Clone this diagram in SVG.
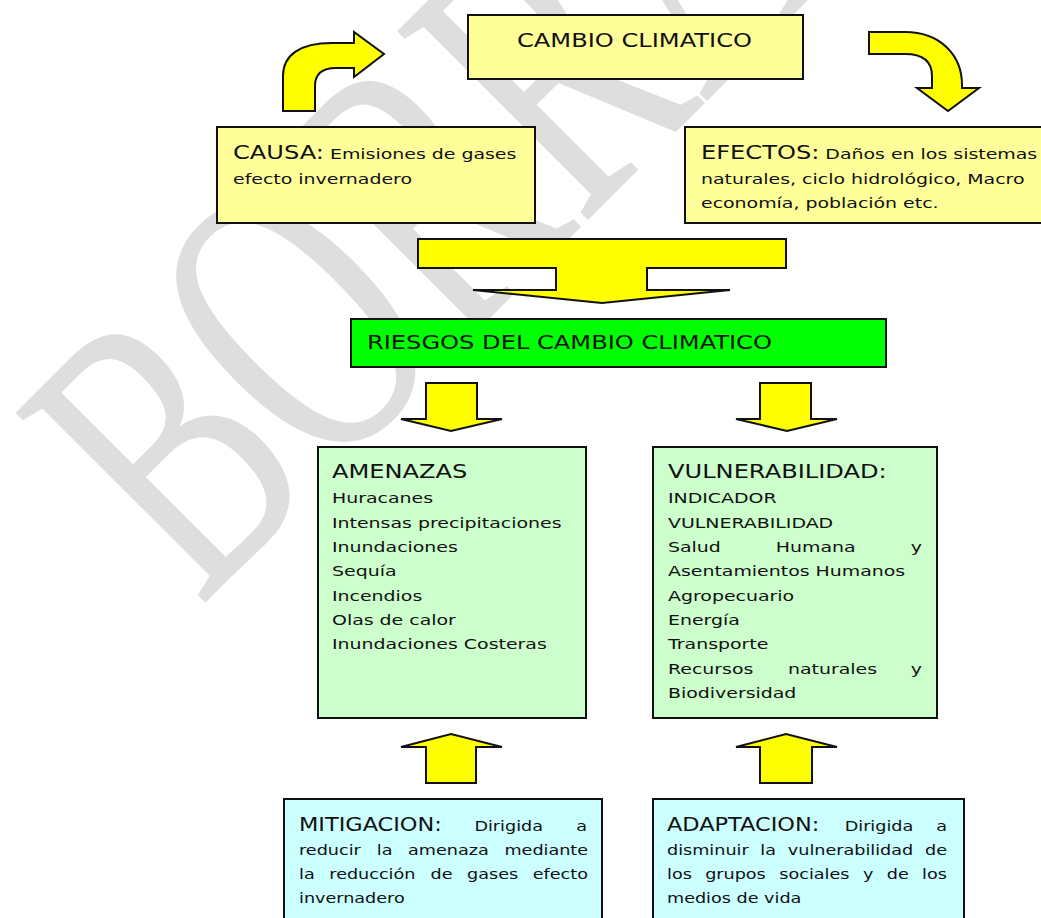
<svg xmlns="http://www.w3.org/2000/svg" width="1041" height="918" viewBox="0 0 1041 918">
<style>
.wm{font-family:"Liberation Serif","Times New Roman",serif;font-size:410px;fill:#dedede}
.box{stroke:#111;stroke-width:2}
.yel{fill:#ffff99}
.grn{fill:#00ff00}
.lgr{fill:#ccffcc}
.cyn{fill:#ccffff}
.arr{fill:#ffff00;stroke:#111;stroke-width:2;stroke-linejoin:miter}
.t{font-family:"DejaVu Sans",Verdana,sans-serif;fill:#111;font-size:14.67px}
.h{font-size:18.7px}
</style>
<rect width="1041" height="918" fill="#fff"/>
<text class="wm" transform="translate(200,608) rotate(-45) scale(0.64,1)">BORRADOR</text>

<g id="cambio">
<rect class="box yel" x="468" y="15" width="335" height="64"/>
<text class="t h" transform="translate(517,47) scale(1.29,1)">CAMBIO CLIMATICO</text>
</g>

<g id="causa">
<rect class="box yel" x="217" y="127" width="318" height="96"/>
<text class="t" transform="translate(233,0) scale(1.29,1)"><tspan x="0" y="159"><tspan class="h">CAUSA:</tspan> Emisiones de gases</tspan><tspan x="0" y="184">efecto invernadero</tspan></text>
</g>

<g id="efectos">
<rect class="box yel" x="685" y="127" width="370" height="96"/>
<text class="t" transform="translate(701,0) scale(1.29,1)"><tspan x="0" y="159"><tspan class="h">EFECTOS:</tspan> Daños en los sistemas</tspan><tspan x="0" y="184">naturales, ciclo hidrológico, Macro</tspan><tspan x="0" y="208">economía, población etc.</tspan></text>
</g>

<g id="riesgos">
<rect class="box grn" x="351" y="319" width="535" height="48"/>
<text class="t h" transform="translate(367,349) scale(1.29,1)">RIESGOS DEL CAMBIO CLIMATICO</text>
</g>

<g id="amenazas">
<rect class="box lgr" x="318" y="447" width="268" height="271"/>
<text class="t" transform="translate(332,0) scale(1.29,1)"><tspan class="h" x="0" y="478.5">AMENAZAS</tspan><tspan x="0" y="503.5">Huracanes</tspan><tspan x="0" y="527.8">Intensas precipitaciones</tspan><tspan x="0" y="552.1">Inundaciones</tspan><tspan x="0" y="576.4">Sequía</tspan><tspan x="0" y="600.7">Incendios</tspan><tspan x="0" y="625">Olas de calor</tspan><tspan x="0" y="649.3">Inundaciones Costeras</tspan></text>
</g>

<g id="vulnerabilidad">
<rect class="box lgr" x="653" y="447" width="284" height="271"/>
<text class="t" transform="translate(668,0) scale(1.29,1)"><tspan class="h" x="0" y="478.5">VULNERABILIDAD:</tspan><tspan x="0" y="503.5">INDICADOR</tspan><tspan x="0" y="527.8">VULNERABILIDAD</tspan><tspan x="0" y="552.1">Salud</tspan><tspan x="83.6" y="552.1">Humana</tspan><tspan x="188.2" y="552.1">y</tspan><tspan x="0" y="576.4">Asentamientos Humanos</tspan><tspan x="0" y="600.7">Agropecuario</tspan><tspan x="0" y="625">Energía</tspan><tspan x="0" y="649.3">Transporte</tspan><tspan x="0" y="673.6">Recursos</tspan><tspan x="93" y="673.6">naturales</tspan><tspan x="188.2" y="673.6">y</tspan><tspan x="0" y="697.9">Biodiversidad</tspan></text>
</g>

<g id="mitigacion">
<rect class="box cyn" x="284" y="799" width="318" height="140"/>
<text class="t" transform="translate(299,0) scale(1.2,1)"><tspan class="h" x="0" y="831">MITIGACION:</tspan><tspan x="146.2" y="831">Dirigida</tspan><tspan x="231" y="831">a</tspan><tspan x="0" y="855">reducir</tspan><tspan x="64.8" y="855">la</tspan><tspan x="90.9" y="855">amenaza</tspan><tspan x="171.2" y="855">mediante</tspan><tspan x="0" y="879">la</tspan><tspan x="25.25" y="879">reducción</tspan><tspan x="109.6" y="879">de</tspan><tspan x="140.1" y="879">gases</tspan><tspan x="194.8" y="879">efecto</tspan><tspan x="0" y="903">invernadero</tspan></text>
</g>

<g id="adaptacion">
<rect class="box cyn" x="653" y="799" width="311" height="140"/>
<text class="t" transform="translate(667,0) scale(1.2,1)"><tspan class="h" x="0" y="831">ADAPTACION:</tspan><tspan x="148.1" y="831">Dirigida</tspan><tspan x="224.3" y="831">a</tspan><tspan x="0" y="855">disminuir</tspan><tspan x="77.8" y="855">la</tspan><tspan x="100.7" y="855">vulnerabilidad</tspan><tspan x="215" y="855">de</tspan><tspan x="0" y="879">los</tspan><tspan x="31.8" y="879">grupos</tspan><tspan x="93.6" y="879">sociales</tspan><tspan x="163.3" y="879">y</tspan><tspan x="183.1" y="879">de</tspan><tspan x="212.6" y="879">los</tspan><tspan x="0" y="903">medios de vida</tspan></text>
</g>

<g id="connectors">
<path class="arr" d="M283,111 L283,76 C283,55 300,43 332,43 L354,43 L354,32 L384,54 L354,77 L354,68 L336,68 C322,68 315,74 315,86 L315,111 Z"/>
<path class="arr" d="M869,32 L905,32 C940,32 962,55 962,85 L962,88 L979,88 L948,111 L917,88 L932,88 L932,76 C932,62 923,54 905,54 L869,54 Z"/>
<path class="arr" d="M418,239 L786,239 L786,268 L647,268 L647,290 L730,290 L602,303 L473,290 L556,290 L556,268 L418,268 Z"/>
<path class="arr" d="M426,383 L477,383 L477,419 L502,419 L451,431 L401,419 L426,419 Z"/>
<path class="arr" d="M760,383 L811,383 L811,419 L837,419 L787,431 L736,419 L760,419 Z"/>
<path class="arr" d="M426,783 L476,783 L476,747 L502,747 L451,734 L401,747 L426,747 Z"/>
<path class="arr" d="M760,783 L812,783 L812,747 L837,747 L786,734 L736,747 L760,747 Z"/>
</g>
</svg>
